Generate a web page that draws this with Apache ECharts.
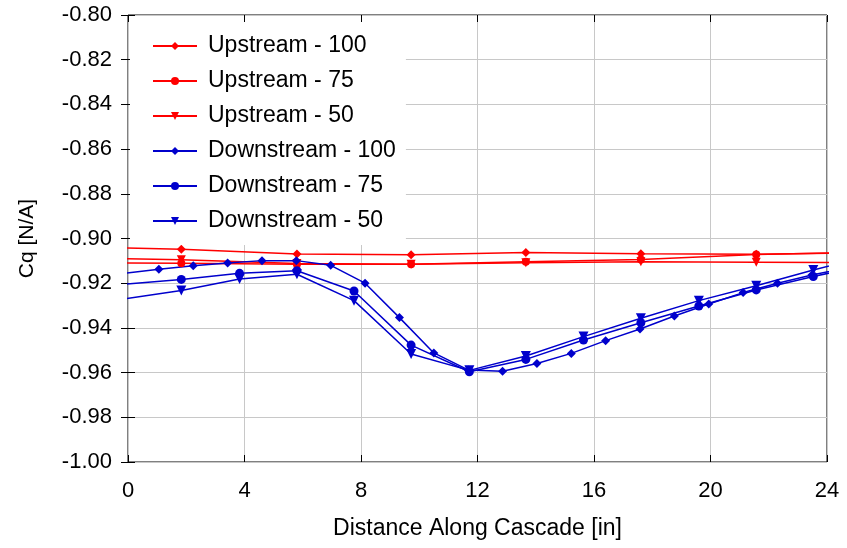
<!DOCTYPE html>
<html><head><meta charset="utf-8">
<script src="https://cdn.jsdelivr.net/npm/echarts@6/dist/echarts.min.js"></script>
<style>html,body{margin:0;padding:0;background:#fff}#c{width:847px;height:548px}</style>
</head><body><div id="c"></div>
<script>
// Upstream stations (points beyond 0..24 are clipped by the plot frame)
const upX = [-0.13, 1.83, 5.80, 9.72, 13.66, 17.61, 21.57, 25.5];
const up100 = [-0.9042, -0.9048, -0.9069, -0.9073, -0.9063, -0.9068, -0.9070, -0.9063];
const up75  = [-0.9110, -0.9111, -0.9115, -0.9115, -0.9104, -0.9094, -0.9072, -0.9060];
const up50  = [-0.9090, -0.9095, -0.9112, -0.9115, -0.9108, -0.9104, -0.9106, -0.9108];

// Downstream - 100 stations
const dn100X = [-0.12, 1.06, 2.24, 3.42, 4.60, 5.78, 6.96, 8.14, 9.32, 10.50, 11.68, 12.86, 14.04, 15.22, 16.40, 17.58, 18.76, 19.94, 21.12, 22.30, 23.48, 24.66];
const dn100  = [-0.9156, -0.9138, -0.9122, -0.9110, -0.9099, -0.9099, -0.9120, -0.9200, -0.9354, -0.9512, -0.9588, -0.9594, -0.9559, -0.9514, -0.9457, -0.9405, -0.9347, -0.9293, -0.9242, -0.9200, -0.9163, -0.9133];

// Downstream - 75 / 50 stations
const dnX  = [-0.13, 1.83, 3.83, 5.80, 7.76, 9.72, 11.72, 13.66, 15.64, 17.61, 19.60, 21.57, 23.53, 25.5];
const dn75 = [-0.9205, -0.9183, -0.9156, -0.9144, -0.9235, -0.9477, -0.9596, -0.9541, -0.9454, -0.9377, -0.9302, -0.9230, -0.9170, -0.9115];
const dn50 = [-0.9270, -0.9233, -0.9181, -0.9160, -0.9278, -0.9517, -0.9590, -0.9526, -0.9439, -0.9357, -0.9278, -0.9211, -0.9141, -0.9075];

const xTicks = [0, 4, 8, 12, 16, 20, 24];
const yMin = -1.00, yMax = -0.80, yStep = 0.02;

const RED = '#ff0000', BLUE = '#0000cc';
const FONT = 'Liberation Sans, Arial, sans-serif';
const pair = (xs, ys) => xs.map((x, i) => [x, ys[i]]);

function mk(name, xs, ys, color, symbol, size) {
  return {
    name, type: 'line', xAxisIndex: 0, yAxisIndex: 0,
    data: pair(xs, ys), clip: true,
    symbol, symbolSize: size, showAllSymbol: true,
    lineStyle: { color, width: 1.5 }, itemStyle: { color },
    emphasis: { disabled: true }, animation: false
  };
}
const DIA = 'diamond', CIR = 'circle', TRI = 'path://M0,0 L10,0 L5,9 Z';

const chart = echarts.init(document.getElementById('c'), null, { renderer: 'canvas' });
const axisCommon = {
  axisLine: { show: false },
  axisTick: { show: true, inside: true, length: 7, lineStyle: { color: '#000', width: 1 } },
  splitLine: { show: false }
};
chart.setOption({
  backgroundColor: '#fff',
  animation: false,
  textStyle: { fontFamily: FONT },
  grid: { left: 128, right: 20, top: 15, bottom: 86, show: true, borderColor: '#000', borderWidth: 1, backgroundColor: 'transparent' },
  legend: {
    orient: 'vertical', left: 130, top: 22,
    padding: [12, 10, 12, 22], itemGap: 11,
    itemWidth: 44, itemHeight: 10,
    backgroundColor: '#fff', z: 10,
    textStyle: { fontSize: 23, color: '#000', fontFamily: FONT, lineHeight: 24, padding: [0, 0, 0, 6] },
    data: ['Upstream - 100', 'Upstream - 75', 'Upstream - 50', 'Downstream - 100', 'Downstream - 75', 'Downstream - 50']
  },
  xAxis: [
    Object.assign({}, axisCommon, {
      type: 'value', min: 0, max: 24, interval: 4, position: 'bottom',
      splitLine: { show: true, lineStyle: { color: '#c8c8c8', width: 1 } },
      axisLabel: { fontSize: 22, color: '#000', margin: 18, fontFamily: FONT, formatter: v => xTicks.includes(v) ? String(v) : '' },
      name: 'Distance Along Cascade [in]', nameLocation: 'middle', nameGap: 55,
      nameTextStyle: { fontSize: 23, color: '#000', fontFamily: FONT }
    }),
    Object.assign({}, axisCommon, {
      type: 'value', min: 0, max: 24, interval: 4, position: 'top',
      axisLabel: { show: false }
    })
  ],
  yAxis: [
    Object.assign({}, axisCommon, {
      type: 'value', min: yMin, max: yMax, interval: yStep, position: 'left',
      splitLine: { show: true, lineStyle: { color: '#c8c8c8', width: 1 } },
      axisLabel: { fontSize: 22, color: '#000', margin: 16, fontFamily: FONT, formatter: v => v.toFixed(2) },
      name: 'Cq [N/A]', nameLocation: 'middle', nameGap: 90, nameRotate: 90,
      nameTextStyle: { fontSize: 21, color: '#000', fontFamily: FONT }
    }),
    Object.assign({}, axisCommon, {
      type: 'value', min: yMin, max: yMax, interval: yStep, position: 'right',
      axisLabel: { show: false }
    })
  ],
  series: [
    mk('Upstream - 100', upX, up100, RED, DIA, 9),
    mk('Upstream - 75', upX, up75, RED, CIR, 8),
    mk('Upstream - 50', upX, up50, RED, TRI, 9),
    mk('Downstream - 100', dn100X, dn100, BLUE, DIA, 9),
    mk('Downstream - 75', dnX, dn75, BLUE, CIR, 9),
    mk('Downstream - 50', dnX, dn50, BLUE, TRI, 10)
  ]
});
</script></body></html>
